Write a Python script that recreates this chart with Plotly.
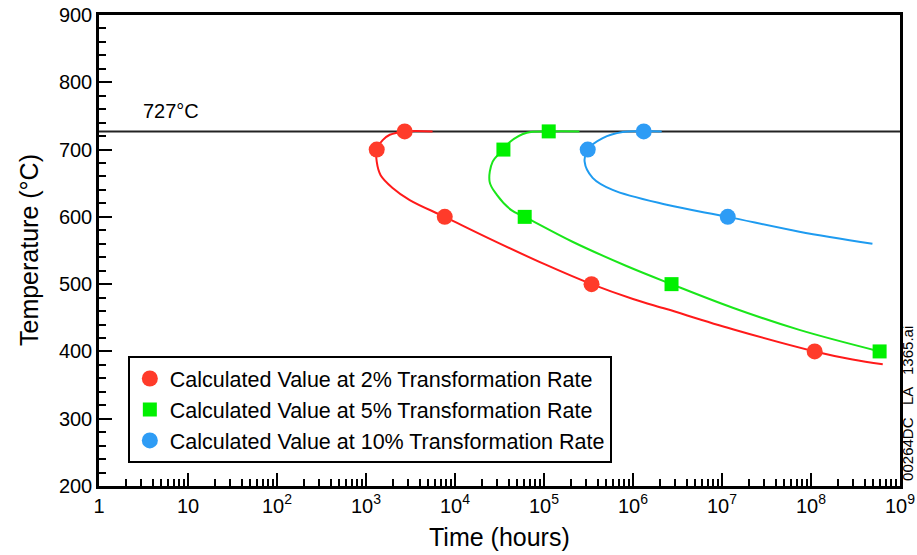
import plotly.graph_objects as go

# Time-temperature curves (time in hours, temperature in °C)
red_curve_t = [5.6e3, 2.72e3, 1.85e3, 1.54e3, 1.32e3, 1.32e3, 1.46e3, 1.99e3, 3.1e3, 7.67e3,
               2.5e4, 1.0e5, 3.42e5, 1.0e6, 2.38e6, 1.32e7, 1.1e8, 2.93e8, 6.4e8]
red_curve_T = [727, 727, 722, 714, 700, 682, 662, 643, 625, 600,
               567, 530, 500, 478, 463, 433, 400, 388, 381]
red_pts_t = [2.72e3, 1.32e3, 7.67e3, 3.42e5, 1.1e8]
red_pts_T = [727, 700, 600, 500, 400]

green_curve_t = [2.5e5, 1.13e5, 6.4e4, 4.1e4, 3.5e4, 2.65e4, 2.45e4, 2.94e4, 4.3e4, 6.07e4,
                 2.09e5, 8.45e5, 2.71e6, 1.32e7, 7.4e7, 5.9e8]
green_curve_T = [727, 727, 725, 711, 700, 682, 652, 633, 610, 600,
                 563, 527, 500, 465, 432, 400]
green_pts_t = [1.13e5, 3.5e4, 6.07e4, 2.71e6, 5.9e8]
green_pts_T = [727, 700, 600, 500, 400]

blue_curve_t = [2.1e6, 1.32e6, 7.66e5, 4.57e5, 3.1e5, 2.86e5, 3.52e5, 5.9e5, 2.39e6, 1.16e7,
                7.4e7, 4.9e8]
blue_curve_T = [727, 727, 726, 717, 700, 682, 658, 640, 618, 600, 578, 560]
blue_pts_t = [1.32e6, 3.1e5, 1.16e7]
blue_pts_T = [727, 700, 600]

eutectoid_T = 727
x_decades = list(range(0, 10))
x_tick_text = ["1", "10"] + [f"10<sup>{d}</sup>" for d in range(2, 10)]

FONT = "Liberation Sans, Arial, sans-serif"

fig = go.Figure()

# 727 °C reference line
fig.add_trace(go.Scatter(x=[1, 1e9], y=[eutectoid_T, eutectoid_T], mode="lines",
                         line=dict(color="#222222", width=2), showlegend=False,
                         hoverinfo="skip"))

series = [
    (red_curve_t, red_curve_T, red_pts_t, red_pts_T, "#FF1A1A", "#FF3B2A", "circle", 16,
     "Calculated Value at 2% Transformation Rate"),
    (green_curve_t, green_curve_T, green_pts_t, green_pts_T, "#1AE61A", "#00F000", "square", 14,
     "Calculated Value at 5% Transformation Rate"),
    (blue_curve_t, blue_curve_T, blue_pts_t, blue_pts_T, "#1E9BF0", "#2E9CF5", "circle", 16,
     "Calculated Value at 10% Transformation Rate"),
]

for ct, cT, pt, pT, lcol, mcol, sym, size, name in series:
    fig.add_trace(go.Scatter(x=ct, y=cT, mode="lines",
                             line=dict(color=lcol, width=2, shape="spline", smoothing=1.0),
                             showlegend=False, hoverinfo="skip"))
for ct, cT, pt, pT, lcol, mcol, sym, size, name in series:
    fig.add_trace(go.Scatter(x=pt, y=pT, mode="markers", name=name,
                             marker=dict(color=mcol, symbol=sym, size=size,
                                         line=dict(width=0))))

minor_x = [m * 10 ** d for d in range(0, 9) for m in range(2, 10)]

fig.update_xaxes(
    type="log", range=[0, 9], automargin=False,
    tickmode="array", tickvals=[10 ** d for d in x_decades], ticktext=x_tick_text,
    ticks="inside", ticklen=13, tickwidth=2, tickcolor="black",
    minor=dict(tickmode="array", tickvals=minor_x, ticks="inside", ticklen=7,
               tickwidth=1.5, tickcolor="black", showgrid=False),
    showline=True, linewidth=2.5, linecolor="black", mirror=True,
    showgrid=False, zeroline=False,
    tickfont=dict(family=FONT, size=20, color="black"),
)
fig.update_yaxes(
    range=[200, 900], tickmode="linear", tick0=200, dtick=100, automargin=False,
    ticks="inside", ticklen=13, tickwidth=2, tickcolor="black",
    minor=dict(dtick=20, ticks="inside", ticklen=7, tickwidth=1.5,
               tickcolor="black", showgrid=False),
    showline=True, linewidth=2.5, linecolor="black", mirror=True,
    showgrid=False, zeroline=False,
    tickfont=dict(family=FONT, size=20, color="black"),
)

fig.add_annotation(text="727°C", x=0.47, y=eutectoid_T, xref="x", yref="y",
                   xanchor="left", yanchor="bottom", yshift=7, showarrow=False,
                   font=dict(family=FONT, size=20, color="black"))
fig.add_annotation(text="Time (hours)", x=0.5, y=-0.108, xref="paper", yref="paper",
                   xanchor="center", yanchor="middle", showarrow=False,
                   font=dict(family=FONT, size=25, color="black"))
fig.add_annotation(text="Temperature (°C)", x=-0.088, y=0.5, xref="paper", yref="paper",
                   xanchor="center", yanchor="middle", textangle=-90, showarrow=False,
                   font=dict(family=FONT, size=25, color="black"))
fig.add_annotation(text="00264DC   LA   1365.ai", x=1.009, y=0.006, xref="paper", yref="paper",
                   xanchor="center", yanchor="bottom", textangle=-90, showarrow=False,
                   font=dict(family=FONT, size=15, color="black"))

fig.update_layout(
    width=917, height=555,
    margin=dict(l=99, r=17, t=15, b=69),
    paper_bgcolor="white", plot_bgcolor="white",
    font=dict(family=FONT, color="black"),
    legend=dict(x=0.036, y=0.276, xanchor="left", yanchor="top",
                bordercolor="black", borderwidth=2, bgcolor="white",
                font=dict(family=FONT, size=21.5, color="black"),
                tracegroupgap=0, itemsizing="trace"),
)

fig.write_html("out.html")
